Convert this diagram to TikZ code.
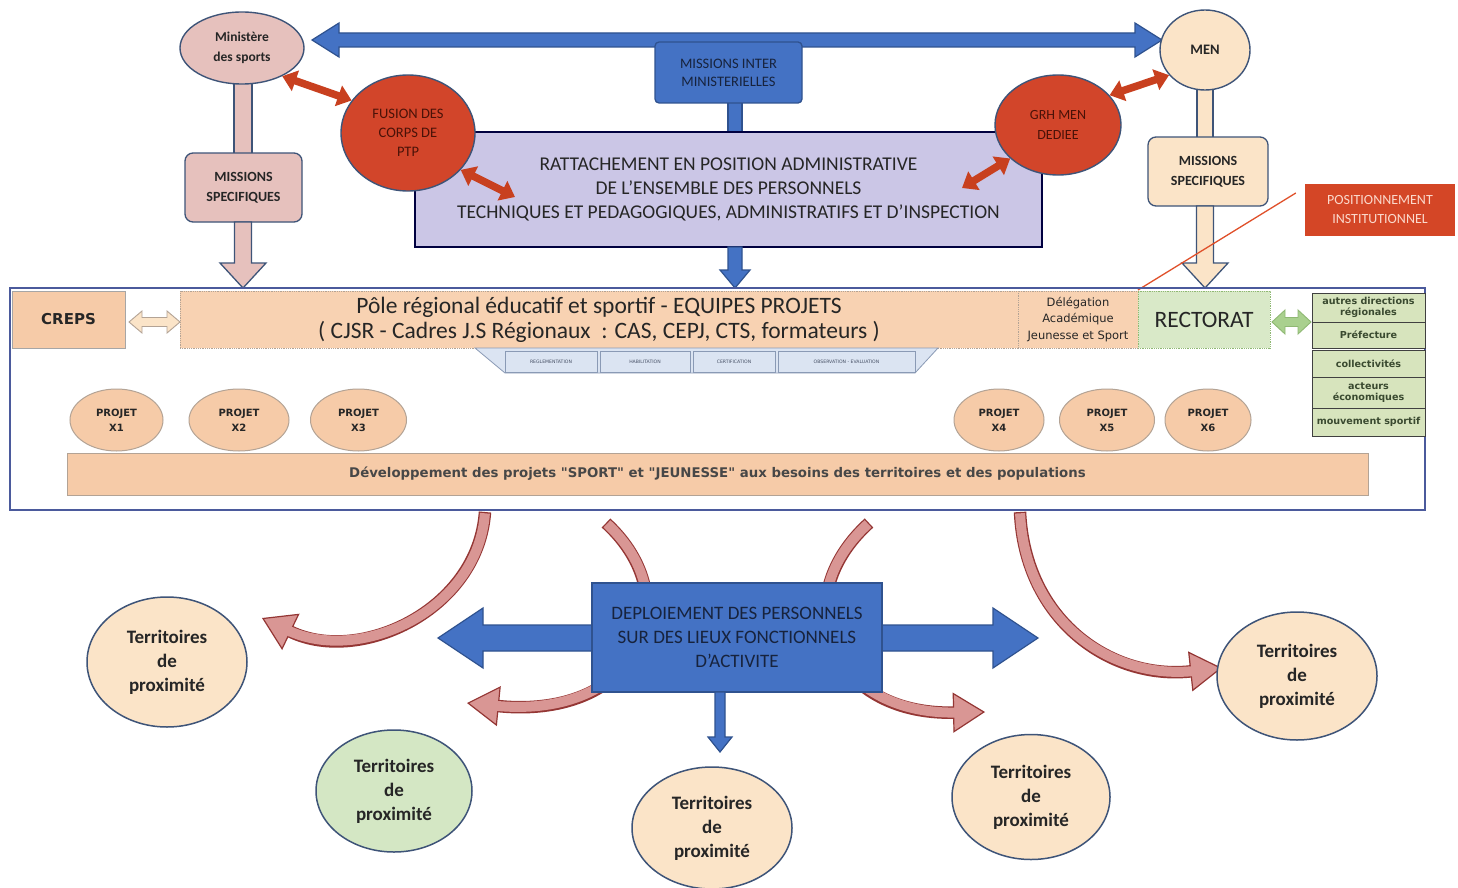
\documentclass[tikz,border=0pt]{standalone}
\usepackage{fontspec}
\setmainfont{Carlito}
\newfontfamily\wide{DejaVu Sans}
\usetikzlibrary{arrows.meta,shapes.geometric,calc}
\definecolor{txt}{HTML}{262626}
\definecolor{navy}{HTML}{17233D}
\definecolor{edge}{HTML}{3E5478}
\definecolor{blu}{HTML}{4472C4}
\definecolor{bluedge}{HTML}{2F528F}
\definecolor{pinkc}{HTML}{E6C1BD}
\definecolor{peachc}{HTML}{FBE4C8}
\definecolor{lav}{HTML}{CBC6E6}
\definecolor{redc}{HTML}{D2452A}
\definecolor{redtxt}{HTML}{4A1208}
\definecolor{posred}{HTML}{D44626}
\definecolor{postxt}{HTML}{FBD9CC}
\definecolor{mainedge}{HTML}{4B5A9C}
\definecolor{orangec}{HTML}{F6CBA8}
\definecolor{orangelt}{HTML}{F8D2B2}
\definecolor{orangeedge}{HTML}{B3A395}
\definecolor{greenc}{HTML}{D9E9C8}
\definecolor{greencol}{HTML}{D7E4BD}
\definecolor{greenarr}{HTML}{A9D08E}
\definecolor{greenedge}{HTML}{8FB873}
\definecolor{greentxt}{HTML}{3A4A30}
\definecolor{tabc}{HTML}{DBE4F2}
\definecolor{tabedge}{HTML}{8A9AB5}
\definecolor{terrgreen}{HTML}{D4E7C4}
\definecolor{arrfill}{HTML}{D99694}
\definecolor{arrdark}{HTML}{943634}
\definecolor{redline}{HTML}{E0502A}
\definecolor{redarrc}{HTML}{C8401F}
\newcommand\fsz[2]{\fontsize{#1}{#2}\selectfont}
% horizontal double block arrow: style, x1, x2, y, shaft half, head half, head length
\newcommand\hdblock[7]{%
  \draw[#1] (#2,#4) -- ({#2+#7},{#4-#6}) -- ({#2+#7},{#4-#5}) -- ({#3-#7},{#4-#5})
    -- ({#3-#7},{#4-#6}) -- (#3,#4) -- ({#3-#7},{#4+#6}) -- ({#3-#7},{#4+#5})
    -- ({#2+#7},{#4+#5}) -- ({#2+#7},{#4+#6}) -- cycle;}
% vertical block arrow pointing down: style, x, y1, y2, shaft half, head half, head length
\newcommand\vdblock[7]{%
  \draw[#1] ({#2-#5},#3) -- ({#2+#5},#3) -- ({#2+#5},{#4-#7}) -- ({#2+#6},{#4-#7})
    -- (#2,#4) -- ({#2-#6},{#4-#7}) -- ({#2-#5},{#4-#7}) -- cycle;}
% curved band arrow: path
\newcommand\bandarrow[1]{%
  \draw[line width=12.5pt, draw=arrdark,
    -{Triangle[length=32pt,width=40pt,fill=arrfill,line width=1.2pt]}] #1;
  \draw[line width=10pt, draw=arrfill, shorten >=28pt, shorten <=1.3pt] #1;}
\begin{document}
\begin{tikzpicture}[x=1pt,y=-1pt,
  every node/.style={text=txt, inner sep=0pt, align=center},
  ell/.style={ellipse, draw=edge, line width=1.4pt},
  box/.style={rectangle, draw=edge, line width=1.3pt},
  redarr/.style={draw=redarrc, line width=7.5pt,
    {Triangle[length=14pt,width=21pt]}-{Triangle[length=14pt,width=21pt]}},
  bluearr/.style={fill=blu, draw=bluedge, line width=1.2pt, line join=miter},
  pinkarr/.style={fill=pinkc, draw=edge, line width=1.3pt, line join=miter},
  peacharr/.style={fill=peachc, draw=edge, line width=1.3pt, line join=miter},
  colbox/.style={rectangle, fill=greencol, draw=black!75, line width=0.8pt,
    minimum width=113, text=greentxt, font=\wide\bfseries\fsz{9.6}{11}},
  tab/.style={rectangle, fill=tabc, draw=tabedge, line width=0.8pt,
    minimum height=21, text=navy!80, font=\wide\fsz{4.6}{6}},
  projet/.style={ellipse, fill=orangec, draw=orangeedge, line width=1pt,
    minimum width=94, minimum height=62, font=\wide\bfseries\fsz{10}{15}},
  terr/.style={ellipse, draw=edge, line width=1.5pt, minimum width=160,
    minimum height=126, font=\bfseries\fsz{19}{24}},
  pinkstem/.style={fill=pinkc, draw=edge, line width=1.3pt},
  peachstem/.style={fill=peachc, draw=edge, line width=1.3pt}
  ]
\useasboundingbox (0,0) rectangle (1458,888);
\fill[white] (0,0) rectangle (1458,888);

% ---- stems ----
\draw[pinkstem] (234,80) rectangle (252,156);
\draw[peachstem] (1197,86) rectangle (1213,140);
\draw[bluearr] (728,100) rectangle (742,135);

% ---- top double arrow ----
\hdblock{bluearr}{312}{1162}{40}{7}{17}{27}

% ---- RATTACHEMENT ----
\node[box, fill=lav, draw=black!75!blue, minimum width=627, minimum height=115,
  font=\fsz{19.5}{24}] (ratt) at (728.5,189.5)
  {RATTACHEMENT EN POSITION ADMINISTRATIVE\\DE L'ENSEMBLE DES PERSONNELS\\
   TECHNIQUES ET PEDAGOGIQUES, ADMINISTRATIFS ET D'INSPECTION};
\node[box, fill=blu, draw=bluedge, rounded corners=4pt, minimum width=147,
  minimum height=61, text=navy, font=\fsz{14.5}{18}] (inter) at (728.5,72.5)
  {MISSIONS INTER\\MINISTERIELLES};

% ---- ministries ----
\node[ell, fill=pinkc, minimum width=124, minimum height=72,
  font=\bfseries\fsz{13.5}{20}] (mins) at (242,48) {Ministère\\des sports};
\node[ell, fill=peachc, minimum width=90, minimum height=80,
  font=\bfseries\fsz{14.5}{16}] (men) at (1205,50) {MEN};
\node[box, fill=pinkc, rounded corners=8pt, minimum width=117, minimum height=69,
  font=\bfseries\fsz{14}{20}] (mspl) at (243.5,187.5) {MISSIONS\\SPECIFIQUES};
\node[box, fill=peachc, rounded corners=8pt, minimum width=120, minimum height=69,
  font=\bfseries\fsz{14}{20}] (mspr) at (1208,171.5) {MISSIONS\\SPECIFIQUES};

% ---- down arrows ----
\vdblock{pinkarr}{243}{222}{288}{8.5}{23}{25}
\vdblock{peacharr}{1205}{206}{288}{8.5}{23}{25}
\vdblock{bluearr}{735}{247}{288}{7}{15}{18}

% ---- red circles ----
\node[ell, fill=redc, minimum width=134, minimum height=116, text=redtxt,
  font=\fsz{14.5}{19}] (fus) at (408,133) {FUSION DES\\CORPS DE\\PTP};
\node[ell, fill=redc, minimum width=126, minimum height=100, text=redtxt,
  font=\fsz{14}{20}] (grh) at (1058,125) {GRH MEN\\DEDIEE};
\coordinate (r2end) at (515,197);
\coordinate (r4end) at (962,188);
\draw[redarr] (mins.-35) -- (fus.150);
\draw[redarr] (fus.-35) -- (r2end);
\draw[redarr] (grh.30) -- (men.215);
\draw[redarr] (grh.215) -- (r4end);

% ---- positionnement ----
\node[rectangle, fill=posred, minimum width=150, minimum height=52, text=postxt,
  font=\fsz{14}{19}] (pos) at (1380,210) {POSITIONNEMENT\\INSTITUTIONNEL};
\coordinate (rlineend) at (1138,290);
\draw[redline, line width=1.3pt] ($(pos.west)+(-9,-17)$) -- (rlineend);

% ---- main frame ----
\node[rectangle, draw=mainedge, line width=1.8pt, minimum width=1415,
  minimum height=222] (main) at (717.5,399) {};

\node[rectangle, fill=orangec, draw=black!35, line width=0.8pt, minimum width=113,
  minimum height=57, font=\wide\bfseries\fsz{15}{16}] (creps) at (68.5,319.5) {CREPS};
\node[rectangle, fill=orangelt, draw=orangeedge, densely dotted, line width=0.8pt,
  minimum width=838, minimum height=57, font=\fsz{23.5}{25}] (pole) at (599,319.5)
  {Pôle régional éducatif et sportif - EQUIPES PROJETS\\
   ( CJSR - Cadres J.S Régionaux~ : CAS, CEPJ, CTS, formateurs )};
\node[rectangle, fill=orangelt, draw=orangeedge, densely dotted, line width=0.8pt,
  minimum width=120, minimum height=57, font=\wide\fsz{11.5}{16.5}] (dela) at (1078,319.5)
  {Délégation\\Académique\\Jeunesse et Sport};
\node[rectangle, fill=greenc, draw=greenedge, densely dotted, line width=0.8pt,
  minimum width=132, minimum height=57, font=\fsz{23.5}{24}] (rect) at (1204,319.5)
  {RECTORAT};

\hdblock{fill=peachc, draw=orangeedge, line width=0.9pt}{129}{180}{322}{4.5}{11}{13}
\hdblock{fill=greenarr, draw=greenedge, line width=0.9pt}{1272}{1311}{322}{4.5}{12}{13}

\node[colbox, minimum height=29] (c1) at (1368.5,307.5) {autres directions\\régionales};
\node[colbox, minimum height=26] (c2) at (1368.5,335) {Préfecture};
\node[colbox, minimum height=27] (c3) at (1368.5,363.5) {collectivités};
\node[colbox, minimum height=31] (c4) at (1368.5,392.5) {acteurs\\économiques};
\node[colbox, minimum height=28] (c5) at (1368.5,422) {mouvement sportif};

% ---- trapezoid with tabs ----
\draw[fill=tabc, draw=tabedge, line width=0.8pt] (475,348) -- (938,348) -- (915,373)
  -- (505,373) -- cycle;
\node[tab, minimum width=92] (t1) at (551,362) {REGLEMENTATION};
\node[tab, minimum width=90] (t2) at (645,362) {HABILITATION};
\node[tab, minimum width=82] (t3) at (734,362) {CERTIFICATION};
\node[tab, minimum width=137] (t4) at (846.5,362) {OBSERVATION - EVALUATION};

% ---- projets ----
\node[projet, minimum width=93] (p1) at (116.5,420) {PROJET\\X1};
\node[projet, minimum width=100] (p2) at (239,420) {PROJET\\X2};
\node[projet, minimum width=96] (p3) at (358.5,420) {PROJET\\X3};
\node[projet, minimum width=90] (p4) at (999,420) {PROJET\\X4};
\node[projet, minimum width=95] (p5) at (1107,420) {PROJET\\X5};
\node[projet, minimum width=86] (p6) at (1208,420) {PROJET\\X6};

\node[rectangle, fill=orangec, draw=orangeedge, line width=0.9pt, minimum width=1301,
  minimum height=42, text=black!72, font=\wide\bfseries\fsz{13.3}{16}] (dev) at (717.5,474)
  {Développement des projets "SPORT" et "JEUNESSE" aux besoins des territoires et des populations};

% ---- curved arrows ----
\bandarrow{(485,512) .. controls (478,610) and (360,665) .. (262,618)}
\bandarrow{(606,523) .. controls (690,600) and (640,720) .. (467,703)}
\bandarrow{(869,523) .. controls (784,600) and (830,715) .. (985,712)}
\bandarrow{(1020,512) .. controls (1025,620) and (1110,680) .. (1222,668)}

% ---- deploiement ----
\hdblock{bluearr}{438}{1038}{638}{13}{30}{45}
\node[rectangle, fill=blu, draw=bluedge, line width=1.2pt, minimum width=290,
  minimum height=109, text=navy, font=\fsz{19}{24}] (depl) at (737,637.5)
  {DEPLOIEMENT DES PERSONNELS\\SUR DES LIEUX FONCTIONNELS\\D'ACTIVITE};
\vdblock{bluearr}{720}{692}{752}{5}{12}{15}

% ---- territoires ----
\node[terr, fill=peachc, minimum height=130] (ter1) at (167,662) {Territoires\\de\\proximité};
\node[terr, fill=terrgreen, minimum width=156, minimum height=122] (ter2) at (394,791) {Territoires\\de\\proximité};
\node[terr, fill=peachc, minimum height=122] (ter3) at (712,828) {Territoires\\de\\proximité};
\node[terr, fill=peachc, minimum width=158, minimum height=125] (ter4) at (1031,797) {Territoires\\de\\proximité};
\node[terr, fill=peachc, minimum height=128] (ter5) at (1297,676) {Territoires\\de\\proximité};
\end{tikzpicture}
\end{document}
